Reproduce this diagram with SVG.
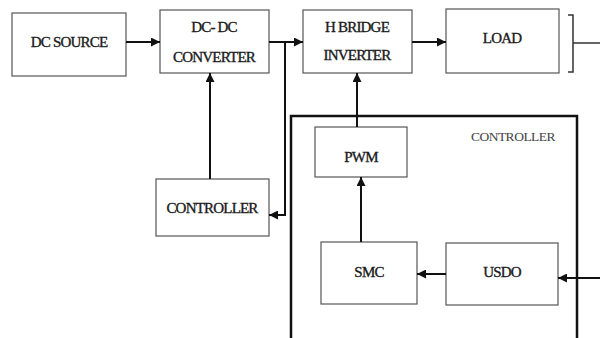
<svg xmlns="http://www.w3.org/2000/svg" width="600" height="338" viewBox="0 0 600 338" font-family="Liberation Serif">
<defs>
<style>
.box{fill:#fff;stroke:#555;stroke-width:1.2}
.t{font-size:15px;fill:#1a1a1a;stroke:#1a1a1a;stroke-width:0.35;text-anchor:middle;letter-spacing:-0.8px}
.lbl{font-size:13.5px;fill:#444;text-anchor:middle;letter-spacing:-0.5px}
.c{fill:none;stroke:#111;stroke-width:2}
</style>
<marker id="ah" viewBox="0 0 10 10" refX="10" refY="5" markerWidth="4.5" markerHeight="4.5" orient="auto" markerUnits="strokeWidth">
<path d="M0,0 L10,5 L0,10 z" fill="#111"/>
</marker>
</defs>
<rect width="600" height="338" fill="#fff"/>
<g id="controller-frame">
<rect x="291" y="116" width="286" height="240" fill="none" stroke="#111" stroke-width="2.5"/>
<text class="lbl" x="513" y="141">CONTROLLER</text>
</g>
<g id="dc-source">
<rect class="box" x="12" y="13" width="114" height="63"/>
<text class="t" x="69" y="47">DC SOURCE</text>
</g>
<g id="dcdc">
<rect class="box" x="160" y="10" width="109" height="63"/>
<text class="t" x="214" y="32">DC- DC</text>
<text class="t" x="214" y="62">CONVERTER</text>
</g>
<g id="hbridge">
<rect class="box" x="303" y="10" width="109" height="63"/>
<text class="t" x="357" y="32">H BRIDGE</text>
<text class="t" x="357" y="60">INVERTER</text>
</g>
<g id="load">
<rect class="box" x="446" y="9" width="113" height="64"/>
<text class="t" x="502" y="43">LOAD</text>
</g>
<g id="controller">
<rect class="box" x="156" y="179" width="113" height="57"/>
<text class="t" x="212" y="213">CONTROLLER</text>
</g>
<g id="pwm">
<rect class="box" x="315" y="127" width="92" height="50"/>
<text class="t" x="361" y="162">PWM</text>
</g>
<g id="smc">
<rect class="box" x="321" y="242" width="96" height="62"/>
<text class="t" x="369" y="277">SMC</text>
</g>
<g id="usdo">
<rect class="box" x="446" y="243" width="112" height="62"/>
<text class="t" x="502" y="277">USDO</text>
</g>
<g id="connectors">
<line class="c" x1="126" y1="42" x2="160" y2="42" marker-end="url(#ah)"/>
<line class="c" x1="269" y1="42" x2="303" y2="42" marker-end="url(#ah)"/>
<polyline class="c" points="285,42 285,215 269,215" marker-end="url(#ah)"/>
<line class="c" x1="412" y1="42" x2="446" y2="42" marker-end="url(#ah)"/>
<line class="c" x1="210" y1="179" x2="210" y2="73" marker-end="url(#ah)"/>
<line class="c" x1="357" y1="127" x2="357" y2="73" marker-end="url(#ah)"/>
<line class="c" x1="361" y1="242" x2="361" y2="177" marker-end="url(#ah)"/>
<line class="c" x1="446" y1="274" x2="417" y2="274" marker-end="url(#ah)"/>
<line class="c" x1="600" y1="278" x2="558" y2="278" marker-end="url(#ah)"/>
<path d="M568,15 H573 V72 H568 M573,43 H600" fill="none" stroke="#333" stroke-width="1.5"/>
</g>
</svg>
